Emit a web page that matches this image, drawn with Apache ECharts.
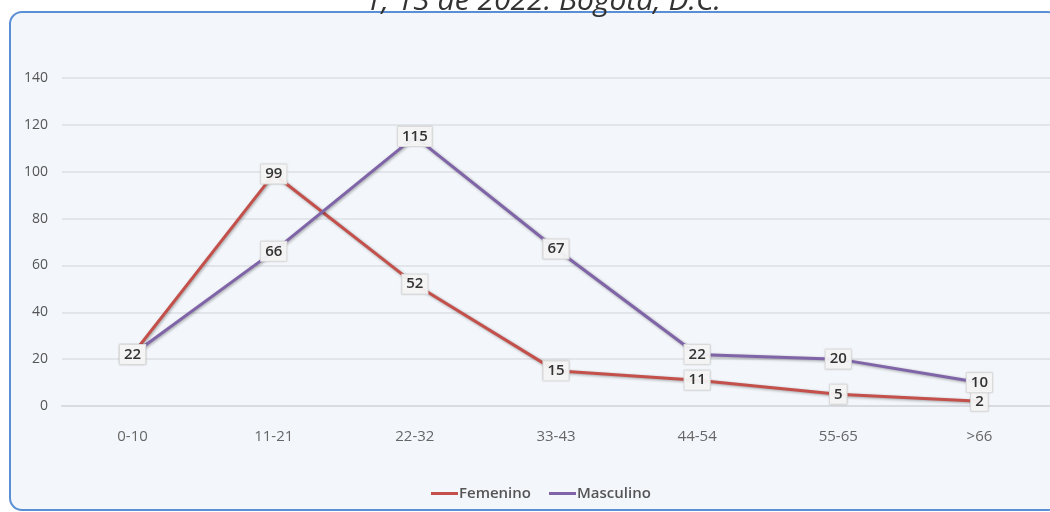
<!DOCTYPE html>
<html>
<head>
<meta charset="utf-8">
<script src="https://cdn.jsdelivr.net/npm/echarts@6/dist/echarts.min.js"></script>
<style>
  html, body { margin: 0; padding: 0; background: #fff; }
  #chart { width: 1050px; height: 512px; }
</style>
</head>
<body>
<div id="chart"></div>
<script>
const categories = ['0-10', '11-21', '22-32', '33-43', '44-54', '55-65', '>66']
const femenino = [22, 99, 52, 15, 11, 5, 2]
const masculino = [22, 66, 115, 67, 22, 20, 10]
const yTicks = { min: 0, max: 140, interval: 20 }

const fontFamily = '"Open Sans", "DejaVu Sans", sans-serif'

const chart = echarts.init(document.getElementById('chart'))

// etiqueta en recuadro centrada sobre el punto
const boxLabel = {
  show: true,
  position: 'inside',
  color: '#333',
  fontSize: 15,
  fontWeight: 600,
  fontFamily,
  backgroundColor: 'rgba(246,246,246,0.95)',
  borderColor: '#e2e2e2',
  borderWidth: 1,
  padding: [3, 4, 1, 4],
  shadowColor: 'rgba(0,0,0,0.12)',
  shadowBlur: 2
}

const lineSeries = (name, data, color) => ({
  name,
  type: 'line',
  data,
  symbol: 'circle',
  symbolSize: 1,
  itemStyle: { color },
  lineStyle: {
    width: 3,
    color,
    shadowColor: 'rgba(0,0,0,0.35)',
    shadowBlur: 3,
    shadowOffsetX: 1,
    shadowOffsetY: 1
  },
  label: boxLabel,
  animation: false
})

chart.setOption({
  backgroundColor: '#fff',
  textStyle: { fontFamily },
  graphic: [
    {
      type: 'rect',
      z: -10,
      shape: { x: 10, y: 12, width: 1050, height: 498, r: 12 },
      style: { fill: '#f3f7fb', stroke: '#5b8fd4', lineWidth: 2 }
    },
    {
      type: 'text',
      x: 543,
      y: 16,
      style: {
        text: '1, 13 de 2022. Bogotá, D.C.',
        font: 'italic 30px ' + fontFamily,
        fill: '#333',
        align: 'center',
        verticalAlign: 'bottom'
      }
    }
  ],
  legend: {
    bottom: 6,
    left: 426,
    itemWidth: 27,
    itemHeight: 3,
    itemGap: 18,
    icon: 'rect',
    textStyle: { color: '#555', fontSize: 15, fontWeight: 600, fontFamily, padding: [0, 0, 0, -4] },
    data: ['Femenino', 'Masculino']
  },
  grid: {
    left: 62,
    top: 78,
    width: 1002,
    height: 328
  },
  xAxis: {
    type: 'category',
    data: categories,
    boundaryGap: true,
    axisLine: { show: true, lineStyle: { color: '#d8dbe0', width: 2 } },
    axisTick: { show: false },
    axisLabel: { color: '#666', fontSize: 15, margin: 23, fontFamily }
  },
  yAxis: {
    type: 'value',
    min: yTicks.min,
    max: yTicks.max,
    interval: yTicks.interval,
    axisLine: { show: false },
    axisTick: { show: false },
    axisLabel: { color: '#555', fontSize: 14, margin: 14, fontFamily },
    splitLine: { lineStyle: { color: '#dcdfe4', width: 1.5 } }
  },
  series: [
    lineSeries('Femenino', femenino, '#c4504b'),
    lineSeries('Masculino', masculino, '#8064a8')
  ]
})
</script>
</body>
</html>
